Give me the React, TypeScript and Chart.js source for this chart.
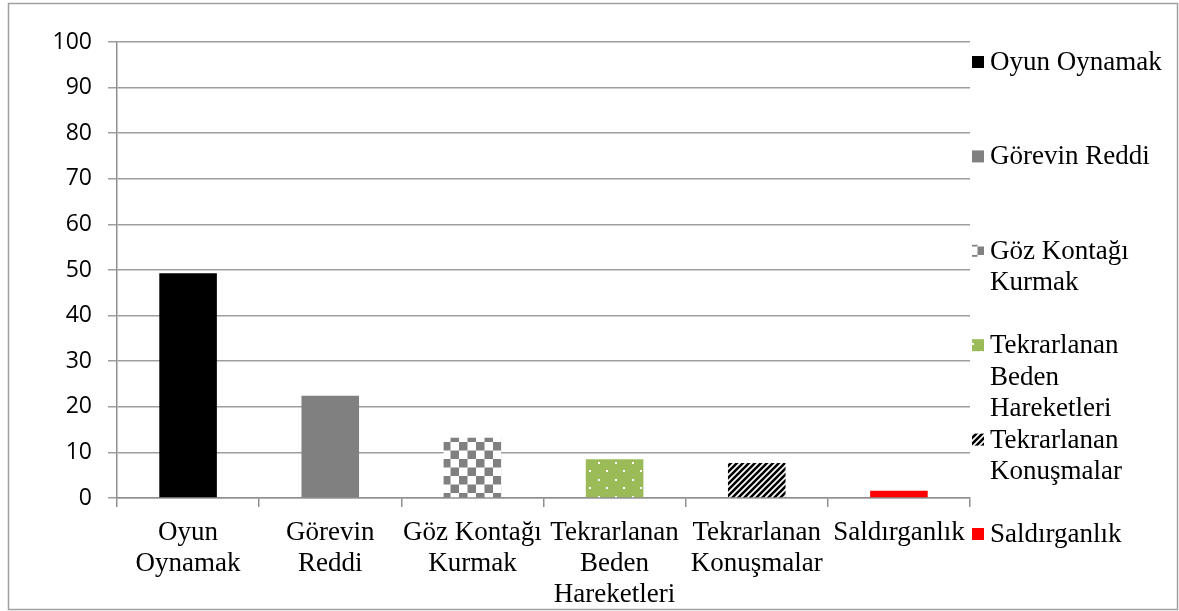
import React, { useEffect, useRef } from "react";
import { Chart, registerables } from "chart.js";

Chart.register(...registerables);

const categories: string[][] = [
  ["Oyun", "Oynamak"],
  ["Görevin", "Reddi"],
  ["Göz Kontağı", "Kurmak"],
  ["Tekrarlanan", "Beden", "Hareketleri"],
  ["Tekrarlanan", "Konuşmalar"],
  ["Saldırganlık"],
];

const legendLabels: string[][] = [
  ["Oyun Oynamak"],
  ["Görevin Reddi"],
  ["Göz Kontağı", "Kurmak"],
  ["Tekrarlanan", "Beden", "Hareketleri"],
  ["Tekrarlanan", "Konuşmalar"],
  ["Saldırganlık"],
];

const values: number[] = [49.3, 22.4, 13.2, 8.5, 7.7, 1.6];

const yTicks: number[] = [0, 10, 20, 30, 40, 50, 60, 70, 80, 90, 100];

const SERIF = '"Liberation Serif", "Times New Roman", serif';
const SANS = '"Open Sans", "Liberation Sans", sans-serif';

function makeTile(w: number, h: number, draw: (c: CanvasRenderingContext2D) => void): CanvasPattern | string {
  const cv = document.createElement("canvas");
  cv.width = w;
  cv.height = h;
  const c = cv.getContext("2d");
  if (!c) return "#808080";
  draw(c);
  const p = c.createPattern(cv, "repeat");
  return p || "#808080";
}

function buildFills(): (string | CanvasPattern)[] {
  const checker = makeTile(17, 17, (c) => {
    c.fillStyle = "#ffffff";
    c.fillRect(0, 0, 17, 17);
    c.fillStyle = "#808080";
    c.fillRect(0, 0, 8.5, 8.5);
    c.fillRect(8.5, 8.5, 8.5, 8.5);
  });
  const dots = makeTile(17, 17, (c) => {
    c.fillStyle = "#9BBB59";
    c.fillRect(0, 0, 17, 17);
    c.fillStyle = "#ffffff";
    c.fillRect(3, 3, 2, 2);
    c.fillRect(11, 11, 2, 2);
  });
  const stripes = makeTile(6, 6, (c) => {
    c.fillStyle = "#ffffff";
    c.fillRect(0, 0, 6, 6);
    c.strokeStyle = "#000000";
    c.lineWidth = 2.6;
    c.beginPath();
    c.moveTo(-1, 7);
    c.lineTo(7, -1);
    c.moveTo(-4, 4);
    c.lineTo(4, -4);
    c.moveTo(2, 10);
    c.lineTo(10, 2);
    c.stroke();
  });
  return ["#000000", "#808080", checker, dots, stripes, "#FF0000"];
}

export default function App() {
  const ref = useRef<HTMLCanvasElement | null>(null);

  useEffect(() => {
    const canvas = ref.current;
    if (!canvas) return;
    const fills = buildFills();

    const framePlugin = {
      id: "frame",
      beforeDraw(chart: any) {
        const ctx = chart.ctx;
        ctx.save();
        ctx.fillStyle = "#ffffff";
        ctx.fillRect(0, 0, chart.width, chart.height);
        ctx.strokeStyle = "#a0a0a0";
        ctx.lineWidth = 1.5;
        ctx.strokeRect(8.5, 3.5, 1169, 606);
        ctx.restore();
      },
    };

    const legendPlugin = {
      id: "sideLegend",
      afterDraw(chart: any) {
        const ctx = chart.ctx;
        ctx.save();
        ctx.font = "27px " + SERIF;
        ctx.textBaseline = "middle";
        ctx.textAlign = "left";
        legendLabels.forEach((lines, i) => {
          const y0 = 62 + i * 94.4;
          ctx.fillStyle = fills[i] as any;
          ctx.fillRect(972, y0 - 6, 12, 12);
          ctx.fillStyle = "#000000";
          lines.forEach((l, j) => ctx.fillText(l, 990, y0 + 1 + j * 31.5));
        });
        ctx.restore();
      },
    };

    const chart = new Chart(canvas, {
      type: "bar",
      data: {
        labels: categories,
        datasets: [
          {
            data: values,
            backgroundColor: fills as any,
            borderWidth: 0,
            categoryPercentage: 1,
            barPercentage: 0.405,
          },
        ],
      },
      options: {
        responsive: false,
        animation: false,
        layout: { padding: { top: 42, right: 209, left: 0, bottom: 0 } },
        plugins: {
          legend: { display: false },
          tooltip: { enabled: false },
          title: { display: false },
        },
        scales: {
          x: {
            offset: true,
            grid: {
              offset: true,
              drawOnChartArea: false,
              drawTicks: true,
              tickLength: 9,
              color: "#8f8f8f",
              lineWidth: 1.5,
            },
            border: { color: "#8f8f8f", width: 1.5 },
            ticks: {
              color: "#000000",
              font: { family: SERIF, size: 27, lineHeight: 1.15 },
              padding: 10,
              maxRotation: 0,
              autoSkip: false,
            },
            afterFit(scale: any) {
              scale.height = 113;
            },
          },
          y: {
            min: 0,
            max: 100,
            afterBuildTicks(scale: any) {
              scale.ticks = yTicks.map((v) => ({ value: v }));
            },
            grid: {
              color: "#9d9d9d",
              lineWidth: 1.5,
              tickLength: 9,
            },
            border: { color: "#8f8f8f", width: 1.5 },
            ticks: {
              color: "#000000",
              font: { family: SANS, size: 23 },
              padding: 16,
            },
            afterFit(scale: any) {
              scale.width = 117;
            },
          },
        },
      },
      plugins: [framePlugin, legendPlugin],
    });

    return () => {
      chart.destroy();
    };
  }, []);

  return (
    <canvas
      ref={ref}
      width={1179}
      height={611}
      style={{ position: "absolute", left: 0, top: 0, display: "block" }}
    />
  );
}
